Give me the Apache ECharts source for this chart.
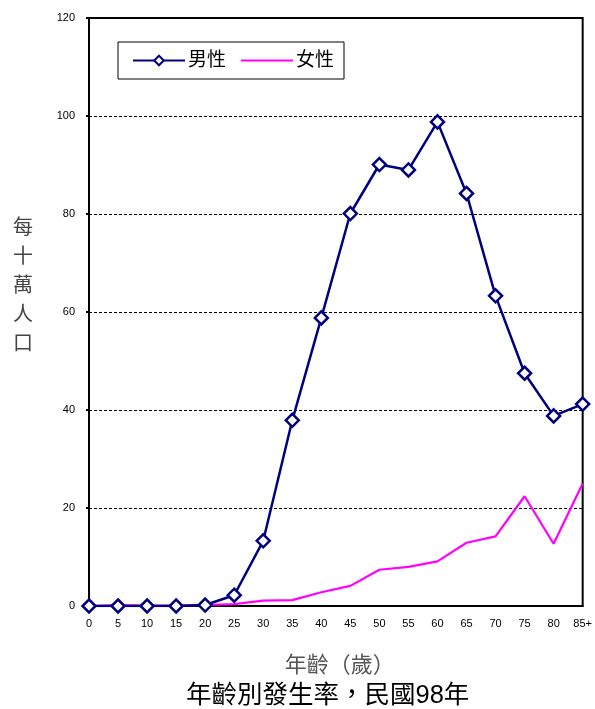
<!DOCTYPE html>
<html><head><meta charset="utf-8">
<script src="https://cdn.jsdelivr.net/npm/echarts@6/dist/echarts.min.js"></script>
<style>html,body{margin:0;padding:0;background:#fff}#c{width:595px;height:709px}</style>
</head><body><div id="c"></div>
<script>
const categories = ['0','5','10','15','20','25','30','35','40','45','50','55','60','65','70','75','80','85+'];
const maleValues = [0, 0, 0, 0, 0.2, 2.2, 13.3, 37.9, 58.8, 80.1, 90.1, 89.0, 98.8, 84.2, 63.3, 47.5, 38.8, 41.2];
const femaleValues = [0, 0.2, 0.1, 0.1, 0.2, 0.4, 1.1, 1.2, 2.8, 4.1, 7.4, 8.0, 9.1, 12.9, 14.2, 22.4, 12.7, 25.0];
const yTicks = [0, 20, 40, 60, 80, 100, 120];

const chart = echarts.init(document.getElementById('c'));
const font = 'Arial, "Liberation Sans", "Noto Sans CJK TC", sans-serif';
chart.setOption({
  animation: false,
  backgroundColor: '#fff',
  title: [
    { text: '年齡別發生率，民國98年', left: 181, top: 678,
      textStyle: { fontSize: 25.5, fontWeight: 'normal', color: '#000', fontFamily: font } },
    { text: '每\n十\n萬\n人\n口', left: 8, top: 209,
      textStyle: { fontSize: 20, fontWeight: 'normal', color: '#444', lineHeight: 29, fontFamily: font } }
  ],
  legend: {
    left: 118, top: 42, itemGap: 14, itemWidth: 52, itemHeight: 12,
    padding: [9, 10, 9, 14],
    borderColor: '#000', borderWidth: 1, backgroundColor: '#fff',
    textStyle: { fontSize: 19, color: '#000', fontFamily: font, padding: [0, 0, 0, -2] },
    data: ['男性', { name: '女性', itemStyle: { opacity: 0 } }]
  },
  grid: { left: 89, right: 9, top: 18, bottom: 103, show: true, borderColor: '#000', borderWidth: 2 },
  xAxis: {
    type: 'category', data: categories, boundaryGap: false,
    name: '年齡（歲）', nameLocation: 'middle', nameGap: 49,
    nameTextStyle: { fontSize: 22, color: '#555', fontFamily: font, padding: [0, 0, 0, 8] },
    axisLine: { lineStyle: { color: '#000', width: 2 } },
    axisTick: { show: false },
    axisLabel: { color: '#000', fontSize: 11, margin: 12, fontFamily: font },
    splitLine: { show: false }
  },
  yAxis: {
    type: 'value', min: 0, max: 120, interval: 20,
    axisLine: { show: true, lineStyle: { color: '#000', width: 2 } },
    axisTick: { show: true, length: 3, lineStyle: { color: '#000', width: 2 } },
    axisLabel: { color: '#000', fontSize: 11, margin: 14, fontFamily: font,
      formatter: v => yTicks.includes(v) ? String(v) : '' },
    splitLine: { show: true, lineStyle: { color: '#000', type: [3, 2], width: 1 } }
  },
  series: [
    { name: '男性', type: 'line', data: maleValues,
      symbol: 'diamond', symbolSize: 13, showAllSymbol: true,
      lineStyle: { color: '#000080', width: 2.5 },
      itemStyle: { color: '#fff', borderColor: '#000080', borderWidth: 2.5 },
      z: 3 },
    { name: '女性', type: 'line', data: femaleValues,
      symbol: 'none', lineStyle: { color: '#FF00FF', width: 2.2 },
      itemStyle: { color: '#FF00FF' }, z: 2 }
  ]
});
</script></body></html>
